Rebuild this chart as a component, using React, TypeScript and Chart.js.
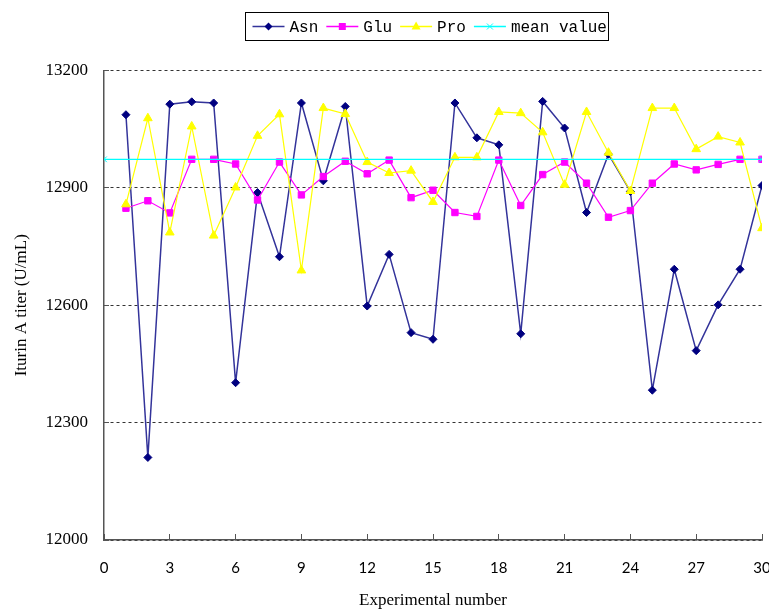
import React, { useEffect, useRef } from "react";
import { Chart, registerables } from "chart.js";

Chart.register(...registerables);

// ---- data ----
const experimentNumbers = [
  1, 2, 3, 4, 5, 6, 7, 8, 9, 10, 11, 12, 13, 14, 15,
  16, 17, 18, 19, 20, 21, 22, 23, 24, 25, 26, 27, 28, 29, 30,
];
const asnValues = [
  13087, 12211, 13114, 13120, 13117, 12402, 12888, 12724, 13117, 12918,
  13108, 12598, 12730, 12530, 12513, 13117, 13028, 13010, 12527, 13121,
  13053, 12837, 12986, 12891, 12383, 12692, 12484, 12601, 12692, 12906,
];
const gluValues = [
  12848, 12867, 12836, 12973, 12973, 12961, 12869, 12966, 12882, 12929,
  12968, 12936, 12971, 12875, 12894, 12837, 12827, 12971, 12855, 12934,
  12966, 12912, 12825, 12842, 12912, 12961, 12946, 12960, 12973, 12973,
];
const proValues = [
  12858, 13078, 12786, 13057, 12778, 12901, 13033, 13088, 12689, 13104,
  13089, 12966, 12938, 12944, 12864, 12978, 12978, 13094, 13091, 13042,
  12908, 13094, 12990, 12892, 13104, 13104, 12999, 13031, 13016, 12797,
];
const meanValue = 12973;
const meanRange = [0, 30];

const seriesNames = ["Asn", "Glu", "Pro", "mean value"];
const xTickMin = 0;
const xTickMax = 30;
const xTickStep = 3;
const yTickMin = 12000;
const yTickMax = 13200;
const yTickStep = 300;
const xTitle = "Experimental number";
const yTitle = "Iturin A titer (U/mL)";

// ---- styles ----
const ASN_LINE = "#33339a";
const ASN_POINT = "#000080";
const GLU = "#ff00ff";
const PRO = "#ffff00";
const MEAN = "#00ffff";

function drawMarker(ctx: CanvasRenderingContext2D, kind: string, x: number, y: number) {
  ctx.save();
  ctx.beginPath();
  if (kind === "diamond") {
    ctx.fillStyle = ASN_POINT;
    ctx.moveTo(x, y - 4);
    ctx.lineTo(x + 4, y);
    ctx.lineTo(x, y + 4);
    ctx.lineTo(x - 4, y);
    ctx.closePath();
    ctx.fill();
  } else if (kind === "square") {
    ctx.fillStyle = GLU;
    ctx.rect(x - 3.5, y - 3.5, 7, 7);
    ctx.fill();
  } else if (kind === "triangle") {
    ctx.fillStyle = PRO;
    ctx.moveTo(x, y - 5);
    ctx.lineTo(x + 4.5, y + 3);
    ctx.lineTo(x - 4.5, y + 3);
    ctx.closePath();
    ctx.fill();
  } else {
    ctx.strokeStyle = MEAN;
    ctx.lineWidth = 1;
    ctx.moveTo(x - 3, y - 3);
    ctx.lineTo(x + 3, y + 3);
    ctx.moveTo(x + 3, y - 3);
    ctx.lineTo(x - 3, y + 3);
    ctx.stroke();
  }
  ctx.restore();
}

const legendItems = [
  { label: seriesNames[0], color: ASN_LINE, marker: "diamond" },
  { label: seriesNames[1], color: GLU, marker: "square" },
  { label: seriesNames[2], color: PRO, marker: "triangle" },
  { label: seriesNames[3], color: MEAN, marker: "cross" },
];

const boxLegend = {
  id: "boxLegend",
  afterDraw(chart: any) {
    const ctx: CanvasRenderingContext2D = chart.ctx;
    ctx.save();
    ctx.font = '16px "Liberation Mono", "DejaVu Sans Mono", monospace';
    const lineLen = 32;
    const gapLineText = 5;
    const gapItems = 8;
    const padLeft = 7;
    const padRight = 2;
    const widths = legendItems.map((it) => ctx.measureText(it.label).width);
    let total = padLeft + padRight + gapItems * (legendItems.length - 1);
    widths.forEach((w) => (total += lineLen + gapLineText + w));
    const left = 245.5;
    const top = 12.5;
    const height = 28;
    ctx.strokeStyle = "#000";
    ctx.lineWidth = 1;
    ctx.strokeRect(left, top, Math.round(total), height);
    const cy = top + height / 2;
    let x = left + padLeft;
    legendItems.forEach((it, i) => {
      ctx.strokeStyle = it.color;
      ctx.lineWidth = 1.5;
      ctx.beginPath();
      ctx.moveTo(x, cy);
      ctx.lineTo(x + lineLen, cy);
      ctx.stroke();
      drawMarker(ctx, it.marker, x + lineLen / 2, cy);
      ctx.fillStyle = "#000";
      ctx.textBaseline = "middle";
      ctx.textAlign = "left";
      ctx.fillText(it.label, x + lineLen + gapLineText, cy + 1);
      x += lineLen + gapLineText + widths[i] + gapItems;
    });
    ctx.restore();
  },
};

function toPoints(values: number[]) {
  return values.map((v, i) => ({ x: experimentNumbers[i], y: v }));
}

export default function App() {
  const canvasRef = useRef<HTMLCanvasElement | null>(null);

  useEffect(() => {
    if (!canvasRef.current) return;
    const chart = new Chart(canvasRef.current, {
      type: "line",
      data: {
        datasets: [
          {
            label: seriesNames[0],
            data: toPoints(asnValues),
            borderColor: ASN_LINE,
            backgroundColor: ASN_POINT,
            borderWidth: 1.5,
            pointStyle: "rectRot",
            pointRadius: 4,
            pointBorderWidth: 1,
            pointBackgroundColor: ASN_POINT,
            pointBorderColor: ASN_POINT,
            tension: 0,
            order: 3,
          },
          {
            label: seriesNames[1],
            data: toPoints(gluValues),
            borderColor: GLU,
            backgroundColor: GLU,
            borderWidth: 1.2,
            pointStyle: "rect",
            pointRadius: 4.5,
            pointBorderWidth: 1,
            pointBackgroundColor: GLU,
            pointBorderColor: GLU,
            tension: 0,
            order: 2,
          },
          {
            label: seriesNames[2],
            data: toPoints(proValues),
            borderColor: PRO,
            backgroundColor: PRO,
            borderWidth: 1.2,
            pointStyle: "triangle",
            pointRadius: 5,
            pointBorderWidth: 1,
            pointBackgroundColor: PRO,
            pointBorderColor: PRO,
            tension: 0,
            order: 1,
          },
          {
            label: seriesNames[3],
            data: meanRange.map((x) => ({ x, y: meanValue })),
            borderColor: MEAN,
            backgroundColor: MEAN,
            borderWidth: 1.2,
            pointStyle: "crossRot",
            pointRadius: 4,
            pointBorderWidth: 1,
            pointBorderColor: MEAN,
            tension: 0,
            order: 0,
          },
        ],
      },
      options: {
        animation: false,
        responsive: false,
        maintainAspectRatio: false,
        layout: { padding: { left: 0, right: 7, top: 70.5, bottom: 0 } },
        plugins: {
          legend: { display: false },
          tooltip: { enabled: false },
        },
        scales: {
          x: {
            type: "linear",
            min: xTickMin,
            max: xTickMax,
            afterFit: (scale: any) => {
              scale.height = 71;
              scale.paddingLeft = 0;
              scale.paddingRight = 0;
            },
            ticks: {
              stepSize: xTickStep,
              color: "#000",
              padding: 25,
              font: { family: "Lato, 'Liberation Sans', sans-serif", size: 15 },
              maxRotation: 0,
              autoSkip: false,
              callback: (v: any) => String(v),
            },
            grid: {
              drawOnChartArea: false,
              drawTicks: true,
              tickLength: -6,
              tickColor: "#555",
              tickWidth: 1,
            },
            border: { display: true, color: "#555", width: 1.5 },
            title: {
              display: true,
              text: xTitle,
              color: "#000",
              font: { family: "'Liberation Serif', serif", size: 17 },
              padding: { top: 0, bottom: 0 },
            },
          },
          y: {
            type: "linear",
            min: yTickMin,
            max: yTickMax,
            afterFit: (scale: any) => {
              scale.width = 104;
              scale.paddingTop = 0;
              scale.paddingBottom = 0;
            },
            ticks: {
              stepSize: yTickStep,
              color: "#000",
              padding: 21,
              font: { family: "'Liberation Serif', serif", size: 17 },
              callback: (v: any) => String(v),
            },
            grid: {
              color: "#333",
              lineWidth: 1,
              drawTicks: true,
              tickLength: -5,
              tickColor: "#555",
              tickWidth: 1,
            },
            border: { display: true, color: "#555", width: 1.5, dash: [3, 3] },
            title: {
              display: true,
              text: yTitle,
              color: "#000",
              font: { family: "'Liberation Serif', serif", size: 17 },
              padding: { top: 11, bottom: 0 },
            },
          },
        },
      },
      plugins: [boxLegend],
    });
    return () => chart.destroy();
  }, []);

  return (
    <div style={{ position: "absolute", left: 0, top: 0, width: 769, height: 611 }}>
      <canvas ref={canvasRef} width={769} height={611} style={{ display: "block" }} />
    </div>
  );
}
